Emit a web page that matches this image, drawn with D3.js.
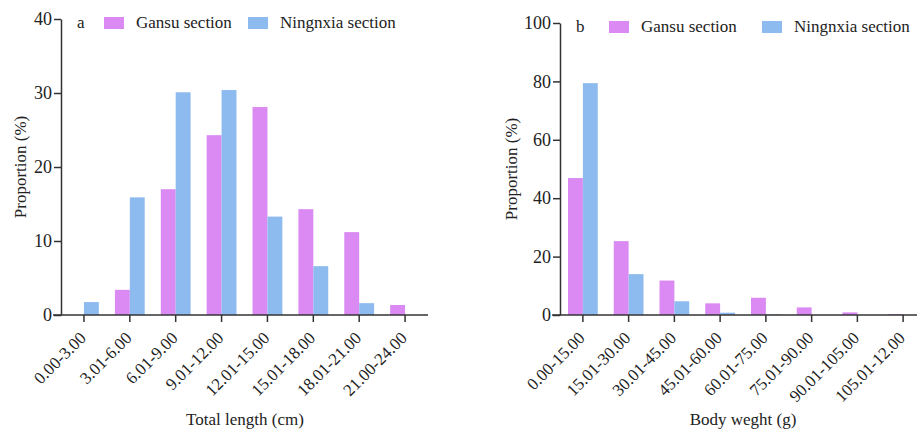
<!DOCTYPE html>
<html>
<head>
<meta charset="utf-8">
<script src="https://cdn.jsdelivr.net/npm/d3@7"></script>
<style>
  body { margin: 0; background: #fff; }
  svg, svg text { font-family: "Liberation Serif", serif !important; }
  .axis path, .axis line { stroke: #333; stroke-width: 1.5px; }
</style>
</head>
<body>
<svg id="chart" width="917" height="436" style="font-family: 'Liberation Serif'"></svg>
<script>
// series names
var seriesNames = ["Gansu section", "Ningnxia section"];

// panel a: total length
var lengthBins = ["0.00-3.00", "3.01-6.00", "6.01-9.00", "9.01-12.00", "12.01-15.00", "15.01-18.00", "18.01-21.00", "21.00-24.00"];
var lengthGansu = [0, 3.4, 17.0, 24.3, 28.1, 14.3, 11.2, 1.35];
var lengthNingxia = [1.75, 15.9, 30.1, 30.4, 13.3, 6.6, 1.6, 0];
var lengthTicks = [0, 10, 20, 30, 40];

// panel b: body weight
var weightBins = ["0.00-15.00", "15.01-30.00", "30.01-45.00", "45.01-60.00", "60.01-75.00", "75.01-90.00", "90.01-105.00", "105.01-12.00"];
var weightGansu = [46.9, 25.3, 11.8, 4.0, 5.9, 2.6, 0.9, 0.3];
var weightNingxia = [79.4, 14.0, 4.7, 0.8, 0.2, 0, 0, 0];
var weightTicks = [0, 20, 40, 60, 80, 100];

var colors = ["#da8af2", "#8ebbef"];

var svg = d3.select("#chart");

function drawPanel(opt) {
  var g = svg.append("g");

  var x = d3.scaleBand()
    .domain(opt.cats)
    .range([opt.x0, opt.x1])
    .paddingInner(0.35)
    .paddingOuter(0.175);

  var xs = d3.scaleBand()
    .domain(seriesNames)
    .range([0, x.bandwidth()]);

  var y = d3.scaleLinear()
    .domain([0, opt.ymax])
    .range([opt.yBottom, opt.yTop]);

  var rows = opt.cats.map(function(c, i) {
    return { cat: c, vals: [opt.a[i], opt.b[i]] };
  });

  var grp = g.selectAll(".grp")
    .data(rows)
    .enter().append("g")
      .attr("class", "grp")
      .attr("transform", function(d) { return "translate(" + x(d.cat) + ",0)"; });

  grp.selectAll("rect")
    .data(function(d) { return d.vals.map(function(v, k) { return { k: k, v: v }; }); })
    .enter().append("rect")
      .attr("x", function(d) { return xs(seriesNames[d.k]); })
      .attr("width", xs.bandwidth())
      .attr("y", function(d) { return y(d.v); })
      .attr("height", function(d) { return opt.yBottom - y(d.v); })
      .attr("fill", function(d) { return colors[d.k]; });

  var xAxis = g.append("g")
    .attr("class", "axis")
    .attr("transform", "translate(0," + opt.yBottom + ")")
    .call(d3.axisBottom(x).tickSize(7).tickSizeOuter(0));
  xAxis.attr("font-family", null);
  xAxis.select(".domain").attr("d", "M" + (opt.x0 - 8) + ",0H" + opt.x1);
  xAxis.selectAll("text")
    .attr("x", 0).attr("y", 0).attr("dy", 0)
    .attr("text-anchor", "end")
    .attr("transform", "translate(3,24) rotate(-45)")
    .attr("font-size", 17)
    .attr("fill", "#222");

  var yAxis = g.append("g")
    .attr("class", "axis")
    .attr("transform", "translate(" + opt.x0 + ",0)")
    .call(d3.axisLeft(y).tickValues(opt.ticks).tickSize(7).tickPadding(2).tickSizeOuter(0));
  yAxis.attr("font-family", null);
  yAxis.selectAll("text")
    .attr("font-size", 18)
    .attr("fill", "#222");

  g.append("text")
    .attr("transform", "translate(" + opt.yTitleX + "," + ((opt.yTop + opt.yBottom) / 2) + ") rotate(-90)")
    .attr("text-anchor", "middle")
    .attr("font-size", 17)
    .attr("fill", "#222")
    .text("Proportion (%)");

  g.append("text")
    .attr("x", opt.xTitleX)
    .attr("y", 425)
    .attr("text-anchor", "middle")
    .attr("font-size", 17)
    .attr("fill", "#222")
    .text(opt.xTitle);

  g.append("text")
    .attr("x", opt.x0 + 16)
    .attr("y", opt.yTop + 9)
    .attr("font-size", 17)
    .attr("fill", "#222")
    .text(opt.label);

  var leg = g.selectAll(".leg")
    .data(seriesNames)
    .enter().append("g")
      .attr("class", "leg")
      .attr("transform", function(d, i) { return "translate(" + opt.legX[i] + "," + (opt.yTop - 2) + ")"; });
  leg.append("rect")
    .attr("width", 20).attr("height", 12)
    .attr("fill", function(d, i) { return colors[i]; });
  leg.append("text")
    .attr("x", 32).attr("y", 11)
    .attr("font-size", 17)
    .attr("fill", "#222")
    .text(function(d) { return d; });
}

drawPanel({
  cats: lengthBins, a: lengthGansu, b: lengthNingxia, ticks: lengthTicks, ymax: 40,
  x0: 61, x1: 428, yTop: 19, yBottom: 315, yTitleX: 26,
  xTitle: "Total length (cm)", xTitleX: 245, label: "a", legX: [104, 248]
});

drawPanel({
  cats: weightBins, a: weightGansu, b: weightNingxia, ticks: weightTicks, ymax: 100,
  x0: 560, x1: 926, yTop: 23, yBottom: 315, yTitleX: 517,
  xTitle: "Body weght (g)", xTitleX: 743, label: "b", legX: [609, 762]
});
</script>
</body>
</html>
